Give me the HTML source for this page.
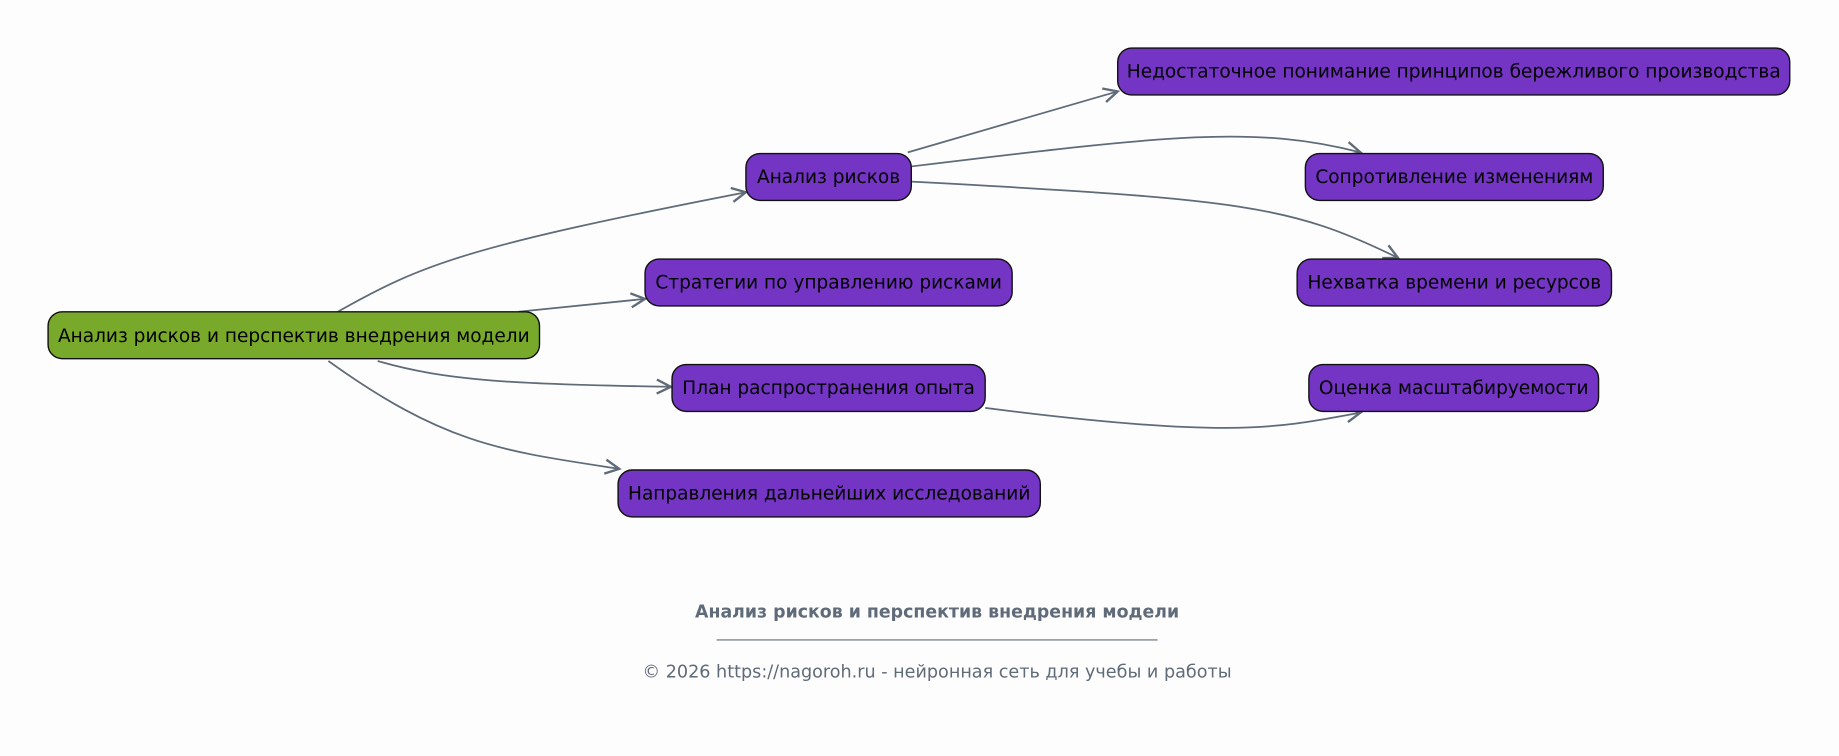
<!DOCTYPE html>
<html><head><meta charset="utf-8"><style>
html,body{margin:0;padding:0;background:#fdfdfd;}
svg{display:block;}
text{font-family:"DejaVu Sans","Liberation Sans",sans-serif;}
</style></head><body>
<svg width="1839" height="756" viewBox="0 0 1568 645" preserveAspectRatio="none" xmlns="http://www.w3.org/2000/svg">
<defs><marker id="a" viewBox="0 0 16 16" refX="14" refY="8" markerWidth="16" markerHeight="16" markerUnits="userSpaceOnUse" orient="auto"><path d="M2,2 L14,8 L2,14" fill="none" stroke="#5f6b78" stroke-width="2"/></marker></defs>
<rect width="1568" height="645" fill="#fdfdfd"/>
<g fill="none" stroke="#5f6b78" stroke-width="1.5" marker-end="url(#a)">
<path d="M288,266 C360,225 400,210 636,164"/>
<path d="M442,266 L550,255"/>
<path d="M322,308 C380,325 440,328 572,330"/>
<path d="M280,308 C380,380 430,385 528,400"/>
<path d="M774,130 C850,108 900,93 953,78"/>
<path d="M777,142 C1000,115 1070,107 1160,130"/>
<path d="M777,155 C1060,170 1100,175 1192,220"/>
<path d="M840,348 C1050,375 1090,365 1160,352"/>
</g>
<g stroke="#111" stroke-width="1.2">
<rect x="41" y="266" width="419" height="40" rx="12" fill="#78a92a"/>
<rect x="636" y="131" width="141" height="40" rx="12" fill="#7434c4"/>
<rect x="550" y="221" width="313" height="40" rx="12" fill="#7434c4"/>
<rect x="573" y="311" width="267" height="40" rx="12" fill="#7434c4"/>
<rect x="527" y="401" width="360" height="40" rx="12" fill="#7434c4"/>
<rect x="953" y="41" width="573" height="40" rx="12" fill="#7434c4"/>
<rect x="1113" y="131" width="254" height="40" rx="12" fill="#7434c4"/>
<rect x="1106" y="221" width="268" height="40" rx="12" fill="#7434c4"/>
<rect x="1116" y="311" width="247" height="40" rx="12" fill="#7434c4"/>
</g>
<g font-size="15.8" fill="#000" text-anchor="middle">
<text x="250.5" y="292">Анализ рисков и перспектив внедрения модели</text>
<text x="706.5" y="156">Анализ рисков</text>
<text x="706.5" y="246">Стратегии по управлению рисками</text>
<text x="706.5" y="336">План распространения опыта</text>
<text x="707" y="426">Направления дальнейших исследований</text>
<text x="1239.5" y="66">Недостаточное понимание принципов бережливого производства</text>
<text x="1240" y="156">Сопротивление изменениям</text>
<text x="1240" y="246">Нехватка времени и ресурсов</text>
<text x="1239.5" y="336">Оценка масштабируемости</text>
</g>
<text x="799" y="527" font-size="14.8" font-weight="bold" fill="#5f6b78" text-anchor="middle">Анализ рисков и перспектив внедрения модели</text>
<line x1="611" y1="546" x2="987" y2="546" stroke="#5f6b78" stroke-width="1"/>
<text x="799" y="578" font-size="15" fill="#5f6b78" text-anchor="middle">© 2026 https://nagoroh.ru - нейронная сеть для учебы и работы</text>
</svg>
</body></html>
